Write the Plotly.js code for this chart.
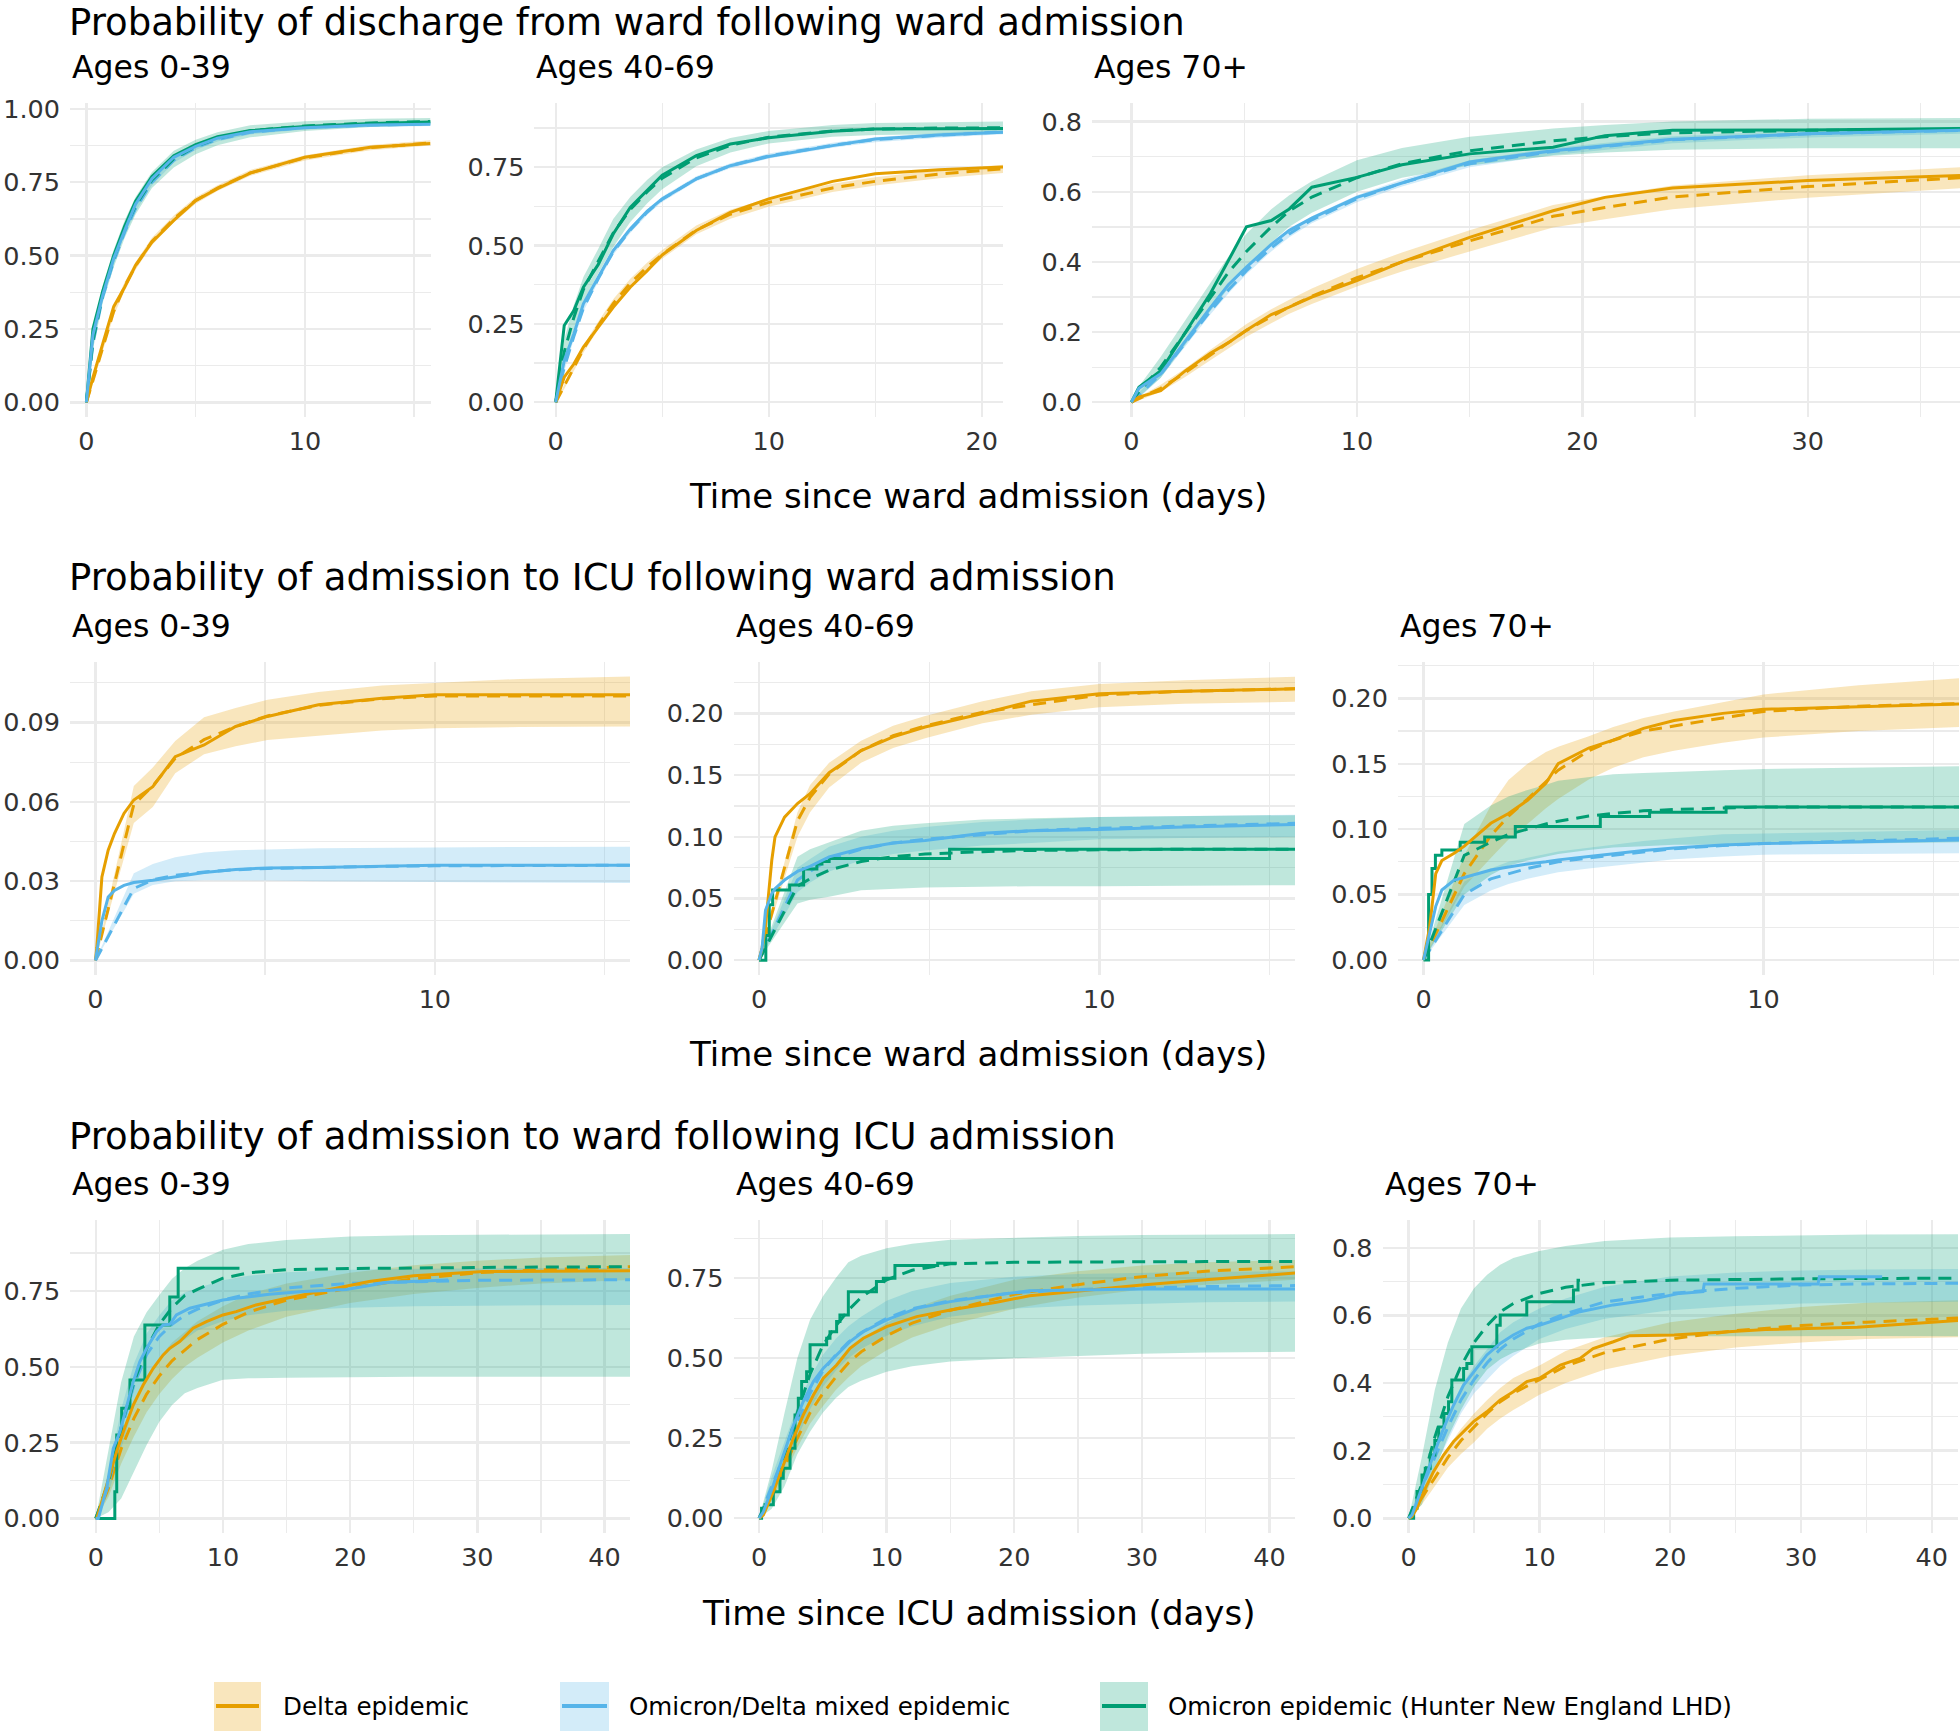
<!DOCTYPE html>
<html><head><meta charset="utf-8">
<script src="https://cdn.plot.ly/plotly-3.0.1.min.js"></script>
<style>html,body{margin:0;padding:0;background:#fff}</style>
</head><body><div id="chart" style="width:1960px;height:1733px"></div>
<script>
// ---------- Row 1: discharge from ward following ward admission ----------
const p1_t = [0, 0.3, 0.75, 1.25, 1.75, 2.25, 3, 4, 5, 6, 7.5, 10, 13, 15.75];
const p1_delta_obs = [0, 0.085, 0.2, 0.326, 0.392, 0.467, 0.546, 0.62, 0.6875, 0.728, 0.781, 0.835, 0.869, 0.882];
const p1_delta_fit = [0, 0.075, 0.19, 0.31, 0.395, 0.465, 0.548, 0.625, 0.688, 0.73, 0.782, 0.833, 0.868, 0.884];
const p1_delta_lo  = [0, 0.065, 0.175, 0.295, 0.38, 0.452, 0.535, 0.613, 0.677, 0.72, 0.772, 0.824, 0.859, 0.875];
const p1_delta_hi  = [0, 0.085, 0.205, 0.325, 0.41, 0.478, 0.561, 0.637, 0.699, 0.74, 0.792, 0.842, 0.877, 0.893];
const p1_mixed_obs = [0, 0.23, 0.365, 0.49, 0.585, 0.675, 0.762, 0.835, 0.872, 0.9, 0.922, 0.936, 0.945, 0.948];
const p1_mixed_fit = [0, 0.2, 0.36, 0.48, 0.58, 0.66, 0.75, 0.825, 0.868, 0.896, 0.92, 0.937, 0.945, 0.949];
const p1_mixed_lo  = [0, 0.19, 0.35, 0.47, 0.57, 0.65, 0.74, 0.816, 0.86, 0.889, 0.913, 0.93, 0.938, 0.942];
const p1_mixed_hi  = [0, 0.21, 0.37, 0.49, 0.59, 0.67, 0.76, 0.834, 0.876, 0.903, 0.927, 0.944, 0.952, 0.956];
const p1_omi_obs   = [0, 0.25, 0.38, 0.5, 0.6, 0.685, 0.77, 0.84, 0.878, 0.905, 0.926, 0.94, 0.95, 0.955];
const p1_omi_fit   = [0, 0.21, 0.37, 0.49, 0.59, 0.67, 0.758, 0.83, 0.872, 0.9, 0.925, 0.942, 0.952, 0.957];
const p1_omi_lo    = [0, 0.18, 0.34, 0.46, 0.56, 0.64, 0.73, 0.8, 0.845, 0.876, 0.903, 0.925, 0.938, 0.944];
const p1_omi_hi    = [0, 0.24, 0.4, 0.52, 0.62, 0.7, 0.785, 0.857, 0.895, 0.92, 0.944, 0.958, 0.966, 0.969];

const p2_t = [0, 0.4, 0.85, 1.3, 2, 2.7, 3.5, 4.3, 5, 6.6, 8.2, 10, 13, 15, 18, 21];
const p2_delta_obs = [0, 0.08, 0.122, 0.176, 0.24, 0.303, 0.367, 0.42, 0.47, 0.548, 0.606, 0.649, 0.705, 0.729, 0.742, 0.751];
const p2_delta_fit = [0, 0.05, 0.11, 0.17, 0.245, 0.315, 0.38, 0.432, 0.472, 0.55, 0.6, 0.638, 0.684, 0.705, 0.728, 0.745];
const p2_delta_lo  = [0, 0.042, 0.1, 0.158, 0.232, 0.301, 0.366, 0.418, 0.458, 0.536, 0.586, 0.624, 0.671, 0.692, 0.715, 0.732];
const p2_delta_hi  = [0, 0.058, 0.12, 0.182, 0.258, 0.329, 0.394, 0.446, 0.486, 0.564, 0.614, 0.652, 0.697, 0.718, 0.741, 0.758];
const p2_mixed_obs = [0, 0.133, 0.218, 0.314, 0.399, 0.484, 0.553, 0.61, 0.649, 0.713, 0.755, 0.784, 0.819, 0.84, 0.853, 0.862];
const p2_mixed_fit = [0, 0.11, 0.21, 0.3, 0.395, 0.48, 0.55, 0.607, 0.648, 0.713, 0.755, 0.786, 0.82, 0.838, 0.852, 0.863];
const p2_mixed_lo  = [0, 0.1, 0.2, 0.29, 0.385, 0.47, 0.54, 0.598, 0.639, 0.705, 0.747, 0.778, 0.812, 0.83, 0.844, 0.855];
const p2_mixed_hi  = [0, 0.12, 0.22, 0.31, 0.405, 0.49, 0.56, 0.616, 0.657, 0.721, 0.763, 0.794, 0.828, 0.846, 0.86, 0.871];
const p2_omi_obs   = [0, 0.245, 0.293, 0.367, 0.44, 0.537, 0.622, 0.676, 0.725, 0.787, 0.824, 0.844, 0.865, 0.872, 0.874, 0.874];
const p2_omi_fit   = [0, 0.16, 0.27, 0.36, 0.45, 0.54, 0.615, 0.672, 0.715, 0.78, 0.82, 0.846, 0.866, 0.872, 0.875, 0.876];
const p2_omi_lo    = [0, 0.12, 0.23, 0.32, 0.41, 0.495, 0.575, 0.635, 0.68, 0.753, 0.797, 0.826, 0.847, 0.853, 0.855, 0.856];
const p2_omi_hi    = [0, 0.2, 0.31, 0.4, 0.49, 0.585, 0.655, 0.71, 0.75, 0.807, 0.843, 0.866, 0.885, 0.891, 0.894, 0.896];

const p3_t = [0, 0.33, 1.3, 2.4, 3.5, 4.3, 5.1, 6.2, 7, 8, 10, 12, 15, 18.7, 21, 24, 30, 36.75];
const p3_delta_obs = [0, 0.015, 0.033, 0.09, 0.14, 0.17, 0.205, 0.25, 0.271, 0.3, 0.347, 0.4, 0.47, 0.546, 0.584, 0.611, 0.632, 0.646];
const p3_delta_fit = [0, 0.01, 0.04, 0.085, 0.135, 0.17, 0.205, 0.245, 0.272, 0.302, 0.355, 0.4, 0.46, 0.53, 0.555, 0.585, 0.615, 0.64];
const p3_delta_lo  = [0, 0.005, 0.03, 0.073, 0.12, 0.153, 0.187, 0.225, 0.252, 0.28, 0.33, 0.373, 0.43, 0.498, 0.522, 0.55, 0.583, 0.61];
const p3_delta_hi  = [0, 0.015, 0.05, 0.097, 0.15, 0.187, 0.223, 0.265, 0.292, 0.324, 0.38, 0.427, 0.49, 0.562, 0.588, 0.618, 0.647, 0.67];
const p3_mixed_obs = [0, 0.04, 0.081, 0.176, 0.27, 0.335, 0.385, 0.45, 0.49, 0.525, 0.584, 0.625, 0.685, 0.717, 0.732, 0.75, 0.765, 0.775];
const p3_mixed_fit = [0, 0.02, 0.08, 0.17, 0.26, 0.32, 0.375, 0.44, 0.48, 0.52, 0.58, 0.625, 0.68, 0.715, 0.73, 0.748, 0.765, 0.775];
const p3_mixed_lo  = [0, 0.012, 0.07, 0.16, 0.25, 0.31, 0.365, 0.43, 0.47, 0.51, 0.57, 0.615, 0.67, 0.705, 0.72, 0.738, 0.755, 0.765];
const p3_mixed_hi  = [0, 0.028, 0.09, 0.18, 0.27, 0.33, 0.385, 0.45, 0.49, 0.53, 0.59, 0.635, 0.69, 0.725, 0.74, 0.758, 0.775, 0.785];
const p3_omi_obs   = [0, 0.043, 0.09, 0.2, 0.31, 0.404, 0.5, 0.518, 0.551, 0.613, 0.641, 0.677, 0.708, 0.727, 0.76, 0.775, 0.776, 0.78];
const p3_omi_fit   = [0, 0.03, 0.1, 0.2, 0.3, 0.37, 0.43, 0.5, 0.545, 0.585, 0.64, 0.68, 0.717, 0.745, 0.757, 0.768, 0.775, 0.778];
const p3_omi_lo    = [0, 0.015, 0.07, 0.165, 0.26, 0.325, 0.385, 0.455, 0.5, 0.54, 0.6, 0.64, 0.675, 0.703, 0.712, 0.72, 0.724, 0.724];
const p3_omi_hi    = [0, 0.045, 0.13, 0.235, 0.34, 0.415, 0.48, 0.55, 0.59, 0.63, 0.69, 0.725, 0.757, 0.78, 0.79, 0.8, 0.808, 0.81];

// ---------- Row 2: admission to ICU following ward admission ----------
const p4_t = [0, 0.04, 0.19, 0.375, 0.56, 0.84, 1.13, 1.69, 2.35, 3.2, 4.13, 5.07, 6.57, 8.44, 10, 12.5, 15.75];
const p4_delta_obs = [0, 0.005, 0.0316, 0.0417, 0.048, 0.0556, 0.0607, 0.0657, 0.0771, 0.0815, 0.0885, 0.0923, 0.0967, 0.0992, 0.1005, 0.1005, 0.1005];
const p4_delta_fit = [0, 0.002, 0.0099, 0.0196, 0.029, 0.044, 0.059, 0.066, 0.0765, 0.0835, 0.0885, 0.0925, 0.0965, 0.099, 0.1, 0.1, 0.1];
const p4_delta_lo  = [0, 0.0018, 0.0087, 0.0172, 0.0258, 0.0387, 0.052, 0.058, 0.0708, 0.078, 0.081, 0.0834, 0.085, 0.087, 0.0878, 0.0883, 0.0885];
const p4_delta_hi  = [0, 0.0023, 0.0111, 0.0219, 0.0327, 0.049, 0.066, 0.073, 0.083, 0.092, 0.0955, 0.0986, 0.1015, 0.104, 0.105, 0.1065, 0.1074];
const p4_mixed_obs = [0, 0.003, 0.015, 0.024, 0.0265, 0.0284, 0.0295, 0.0303, 0.0315, 0.0333, 0.0344, 0.035, 0.0352, 0.0356, 0.036, 0.036, 0.036];
const p4_mixed_fit = [0, 0.001, 0.0045, 0.009, 0.0135, 0.0203, 0.0272, 0.0305, 0.0322, 0.0335, 0.0343, 0.0348, 0.0352, 0.0356, 0.0358, 0.0359, 0.036];
const p4_mixed_lo  = [0, 0.0009, 0.0042, 0.0083, 0.0125, 0.0187, 0.0252, 0.0285, 0.03, 0.0303, 0.0303, 0.0302, 0.03, 0.0298, 0.0297, 0.0295, 0.0293];
const p4_mixed_hi  = [0, 0.0012, 0.0055, 0.011, 0.0163, 0.0245, 0.033, 0.0365, 0.039, 0.0408, 0.0417, 0.042, 0.0424, 0.0427, 0.0428, 0.0429, 0.043];

const p5_t = [0, 0.09, 0.19, 0.375, 0.47, 0.75, 1.13, 1.5, 2.06, 3, 3.94, 4.88, 6.57, 8, 10, 12.5, 15.75];
const p5_delta_obs = [0, 0.01, 0.027, 0.081, 0.1, 0.116, 0.127, 0.135, 0.152, 0.17, 0.181, 0.189, 0.2, 0.21, 0.216, 0.218, 0.22];
const p5_delta_fit = [0, 0.009, 0.019, 0.0375, 0.047, 0.075, 0.113, 0.132, 0.151, 0.17, 0.182, 0.19, 0.201, 0.207, 0.215, 0.218, 0.22];
const p5_delta_lo  = [0, 0.008, 0.0168, 0.0332, 0.0416, 0.0664, 0.1, 0.12, 0.14, 0.16, 0.172, 0.18, 0.192, 0.199, 0.205, 0.208, 0.2095];
const p5_delta_hi  = [0, 0.0096, 0.0202, 0.0398, 0.0499, 0.0796, 0.12, 0.142, 0.16, 0.178, 0.19, 0.198, 0.21, 0.218, 0.224, 0.227, 0.2297];
const p5_mixed_obs = [0, 0.01, 0.0405, 0.054, 0.058, 0.065, 0.072, 0.076, 0.0838, 0.0905, 0.095, 0.097, 0.103, 0.105, 0.106, 0.108, 0.11];
const p5_mixed_fit = [0, 0.0052, 0.0109, 0.0216, 0.027, 0.0431, 0.065, 0.072, 0.082, 0.09, 0.095, 0.098, 0.102, 0.105, 0.107, 0.109, 0.111];
const p5_mixed_lo  = [0, 0.0044, 0.0092, 0.0183, 0.0229, 0.0365, 0.055, 0.063, 0.072, 0.081, 0.086, 0.089, 0.093, 0.095, 0.098, 0.099, 0.1];
const p5_mixed_hi  = [0, 0.006, 0.0126, 0.0249, 0.0312, 0.0498, 0.075, 0.082, 0.092, 0.1, 0.105, 0.108, 0.112, 0.114, 0.116, 0.117, 0.118];
const p5_omi_fit   = [0, 0.0048, 0.0101, 0.0199, 0.025, 0.0398, 0.06, 0.066, 0.073, 0.08, 0.084, 0.086, 0.088, 0.089, 0.0895, 0.09, 0.09];
const p5_omi_lo    = [0, 0.0037, 0.0077, 0.0153, 0.0191, 0.0305, 0.046, 0.049, 0.0515, 0.0568, 0.058, 0.059, 0.0595, 0.06, 0.06, 0.0605, 0.0608];
const p5_omi_hi    = [0, 0.0067, 0.0141, 0.0278, 0.0349, 0.0556, 0.0838, 0.09, 0.096, 0.105, 0.109, 0.111, 0.114, 0.115, 0.116, 0.117, 0.1176];
const p5_omi_obs_t = [0, 0.2, 0.3, 0.4, 0.9, 1.31, 1.7, 1.85, 2.06, 5.6, 15.75];
const p5_omi_obs   = [0, 0.02, 0.045, 0.057, 0.061, 0.074, 0.078, 0.08, 0.0825, 0.09, 0.09];

const p6_t = [0, 0.18, 0.36, 0.54, 0.9, 1.2, 1.98, 2.5, 3.06, 3.6, 3.96, 4.86, 5.58, 6.47, 7.37, 8.8, 10, 12.8, 15.75];
const p6_delta_obs = [0, 0.025, 0.066, 0.076, 0.0815, 0.087, 0.1045, 0.112, 0.122, 0.135, 0.15, 0.162, 0.168, 0.177, 0.183, 0.1885, 0.1916, 0.1936, 0.1957];
const p6_delta_fit = [0, 0.01, 0.02, 0.03, 0.05, 0.066, 0.095, 0.11, 0.123, 0.136, 0.145, 0.16, 0.168, 0.175, 0.179, 0.185, 0.19, 0.194, 0.196];
const p6_delta_lo  = [0, 0.008, 0.017, 0.025, 0.042, 0.056, 0.078, 0.092, 0.104, 0.116, 0.123, 0.138, 0.147, 0.155, 0.16, 0.166, 0.17, 0.175, 0.178];
const p6_delta_hi  = [0, 0.012, 0.024, 0.036, 0.06, 0.08, 0.118, 0.1376, 0.15, 0.159, 0.163, 0.171, 0.178, 0.185, 0.19, 0.197, 0.203, 0.21, 0.2153];
const p6_mixed_obs = [0, 0.02, 0.041, 0.0535, 0.061, 0.063, 0.0688, 0.071, 0.0734, 0.075, 0.0765, 0.079, 0.081, 0.0837, 0.0855, 0.0879, 0.089, 0.0905, 0.0917];
const p6_mixed_fit = [0, 0.0075, 0.015, 0.0225, 0.0375, 0.05, 0.062, 0.066, 0.07, 0.073, 0.075, 0.078, 0.08, 0.083, 0.085, 0.0875, 0.089, 0.091, 0.093];
const p6_mixed_lo  = [0, 0.0063, 0.0126, 0.0189, 0.0315, 0.042, 0.053, 0.058, 0.062, 0.065, 0.067, 0.07, 0.072, 0.075, 0.077, 0.079, 0.0805, 0.081, 0.0815];
const p6_mixed_hi  = [0, 0.009, 0.018, 0.027, 0.045, 0.06, 0.07, 0.075, 0.078, 0.081, 0.083, 0.086, 0.088, 0.091, 0.093, 0.096, 0.097, 0.098, 0.0994];
const p6_omi_fit   = [0, 0.012, 0.024, 0.036, 0.06, 0.08, 0.09, 0.096, 0.1, 0.104, 0.106, 0.11, 0.112, 0.114, 0.115, 0.116, 0.117, 0.117, 0.117];
const p6_omi_lo    = [0, 0.0075, 0.015, 0.0225, 0.0375, 0.05, 0.065, 0.072, 0.076, 0.079, 0.081, 0.084, 0.086, 0.087, 0.088, 0.088, 0.089, 0.089, 0.09];
const p6_omi_hi    = [0, 0.0156, 0.0312, 0.0468, 0.078, 0.104, 0.118, 0.125, 0.13, 0.134, 0.137, 0.14, 0.142, 0.143, 0.144, 0.145, 0.146, 0.147, 0.148];
const p6_omi_obs_t = [0, 0.15, 0.25, 0.35, 0.54, 1.08, 1.8, 2.7, 5.2, 6.65, 8.9, 15.75];
const p6_omi_obs   = [0, 0.05, 0.07, 0.08, 0.084, 0.09, 0.094, 0.102, 0.1096, 0.113, 0.117, 0.117];

// ---------- Row 3: admission to ward following ICU admission ----------
const p7_t = [0, 1, 2, 3, 4, 5, 6, 7, 8, 10, 12, 15, 20, 25, 30, 35, 42];
const p7_delta_fit = [0, 0.1, 0.23, 0.33, 0.41, 0.47, 0.52, 0.555, 0.59, 0.64, 0.68, 0.72, 0.76, 0.79, 0.81, 0.82, 0.83];
const p7_delta_lo  = [0, 0.07, 0.18, 0.27, 0.35, 0.41, 0.46, 0.5, 0.53, 0.58, 0.62, 0.665, 0.71, 0.74, 0.76, 0.775, 0.786];
const p7_delta_hi  = [0, 0.13, 0.28, 0.39, 0.47, 0.53, 0.58, 0.615, 0.65, 0.7, 0.74, 0.775, 0.81, 0.835, 0.85, 0.86, 0.869];
const p7_delta_obs_t = [0, 0.08, 0.86, 1.64, 2.17, 2.95, 3.73, 4.52, 5.3, 5.82, 6.6, 7.65, 8.7, 10, 11.04, 12.6, 15, 17.6, 21.5, 25, 30.5, 42];
const p7_delta_obs   = [0, 0, 0.11, 0.22, 0.286, 0.374, 0.44, 0.495, 0.539, 0.561, 0.583, 0.627, 0.649, 0.671, 0.682, 0.704, 0.726, 0.748, 0.781, 0.8, 0.814, 0.817];
const p7_mixed_fit = [0, 0.11, 0.29, 0.44, 0.54, 0.6, 0.64, 0.67, 0.69, 0.72, 0.74, 0.76, 0.775, 0.781, 0.785, 0.786, 0.787];
const p7_mixed_lo  = [0, 0.08, 0.23, 0.37, 0.46, 0.52, 0.56, 0.59, 0.62, 0.65, 0.67, 0.685, 0.695, 0.7, 0.702, 0.703, 0.704];
const p7_mixed_hi  = [0, 0.15, 0.36, 0.51, 0.61, 0.67, 0.72, 0.745, 0.76, 0.785, 0.8, 0.812, 0.82, 0.823, 0.825, 0.826, 0.826];
const p7_mixed_obs_t = [0, 0.2, 0.86, 1.38, 1.9, 2.43, 2.95, 3.47, 4, 4.78, 5.3, 5.82, 6.34, 7.39, 8.43, 10, 11.04, 13.65, 16.3, 19.7, 22.9, 27.7];
const p7_mixed_obs   = [0, 0, 0.1, 0.231, 0.286, 0.374, 0.451, 0.517, 0.561, 0.616, 0.638, 0.64, 0.671, 0.693, 0.704, 0.72, 0.726, 0.739, 0.748, 0.755, 0.778, 0.786];
const p7_omi_fit   = [0, 0.12, 0.3, 0.45, 0.56, 0.64, 0.695, 0.735, 0.755, 0.792, 0.81, 0.82, 0.824, 0.826, 0.828, 0.829, 0.83];
const p7_omi_lo    = [0, 0.02, 0.066, 0.154, 0.242, 0.319, 0.374, 0.4125, 0.43, 0.457, 0.462, 0.464, 0.466, 0.467, 0.467, 0.467, 0.467];
const p7_omi_hi    = [0, 0.23, 0.45, 0.6, 0.68, 0.737, 0.79, 0.825, 0.85, 0.886, 0.905, 0.918, 0.93, 0.934, 0.936, 0.937, 0.938];
const p7_omi_obs_t = [0, 1.5, 1.65, 2.04, 2.69, 3.86, 5.82, 6.48, 11.3];
const p7_omi_obs   = [0, 0.088, 0.275, 0.363, 0.4565, 0.638, 0.73, 0.825, 0.825];

const p8_t = [0, 1, 2, 3, 4, 5, 6, 7, 8, 10, 12, 15, 20, 25, 30, 35, 42];
const p8_delta_fit = [0, 0.07, 0.16, 0.25, 0.33, 0.39, 0.44, 0.485, 0.52, 0.57, 0.61, 0.65, 0.7, 0.73, 0.755, 0.772, 0.786];
const p8_delta_lo  = [0, 0.055, 0.135, 0.22, 0.295, 0.35, 0.4, 0.44, 0.475, 0.525, 0.565, 0.605, 0.655, 0.69, 0.715, 0.73, 0.745];
const p8_delta_hi  = [0, 0.085, 0.185, 0.28, 0.365, 0.43, 0.48, 0.525, 0.56, 0.61, 0.655, 0.695, 0.745, 0.772, 0.79, 0.8, 0.807];
const p8_delta_obs_t = [0, 0.34, 1.12, 1.9, 2.69, 3.47, 4.26, 5.04, 6.08, 7.13, 8.17, 10, 12.35, 15, 18.6, 21.2, 25, 30, 35, 42];
const p8_delta_obs   = [0, 0.01, 0.083, 0.167, 0.25, 0.323, 0.385, 0.4375, 0.479, 0.531, 0.5625, 0.599, 0.63, 0.651, 0.675, 0.695, 0.71, 0.729, 0.745, 0.766];
const p8_mixed_fit = [0, 0.1, 0.2, 0.3, 0.39, 0.46, 0.51, 0.55, 0.58, 0.625, 0.655, 0.68, 0.705, 0.715, 0.72, 0.724, 0.727];
const p8_mixed_lo  = [0, 0.07, 0.16, 0.25, 0.34, 0.41, 0.46, 0.5, 0.53, 0.57, 0.6, 0.63, 0.655, 0.665, 0.671, 0.675, 0.677];
const p8_mixed_hi  = [0, 0.13, 0.24, 0.35, 0.44, 0.51, 0.56, 0.6, 0.63, 0.68, 0.71, 0.735, 0.755, 0.763, 0.767, 0.77, 0.771];
const p8_mixed_obs_t = [0, 0.34, 1.12, 1.9, 2.69, 3.47, 4.26, 5.04, 6.08, 7.13, 8.17, 10, 12.35, 15, 18.6, 21.2, 30, 42];
const p8_mixed_obs   = [0, 0.02, 0.104, 0.198, 0.29, 0.365, 0.427, 0.469, 0.51, 0.552, 0.583, 0.62, 0.656, 0.677, 0.698, 0.711, 0.716, 0.716];
const p8_omi_fit   = [0, 0.08, 0.2, 0.33, 0.45, 0.54, 0.6, 0.65, 0.69, 0.745, 0.775, 0.795, 0.8, 0.801, 0.802, 0.802, 0.802];
const p8_omi_lo    = [0, 0.03, 0.1, 0.2, 0.27, 0.33, 0.375, 0.41, 0.43, 0.458, 0.475, 0.49, 0.5, 0.508, 0.514, 0.518, 0.52];
const p8_omi_hi    = [0, 0.15, 0.33, 0.5, 0.62, 0.693, 0.75, 0.8, 0.82, 0.844, 0.858, 0.87, 0.877, 0.882, 0.885, 0.887, 0.888];
const p8_omi_obs_t = [0, 0.2, 0.47, 1.12, 1.64, 1.9, 2.43, 2.82, 3.08, 3.34, 3.73, 4.0, 5.3, 5.56, 6.08, 6.34, 7.0, 9.2, 9.74, 10.65, 14, 15.5];
const p8_omi_obs   = [0, 0.031, 0.042, 0.083, 0.125, 0.156, 0.219, 0.323, 0.375, 0.427, 0.458, 0.542, 0.5625, 0.583, 0.615, 0.635, 0.708, 0.74, 0.75, 0.79, 0.797, 0.797];

const p9_t = [0, 1, 2, 3, 4, 5, 6, 7, 8, 10, 12, 15, 20, 25, 30, 35, 42];
const p9_delta_fit = [0, 0.06, 0.12, 0.18, 0.23, 0.27, 0.31, 0.345, 0.37, 0.41, 0.45, 0.49, 0.53, 0.555, 0.57, 0.58, 0.592];
const p9_delta_lo  = [0, 0.04, 0.095, 0.15, 0.19, 0.225, 0.265, 0.295, 0.32, 0.365, 0.4, 0.44, 0.48, 0.505, 0.52, 0.53, 0.535];
const p9_delta_hi  = [0, 0.08, 0.145, 0.21, 0.265, 0.31, 0.35, 0.385, 0.415, 0.452, 0.495, 0.535, 0.58, 0.605, 0.625, 0.637, 0.645];
const p9_delta_obs_t = [0, 0.25, 0.64, 1.15, 1.9, 2.67, 3.44, 4.2, 4.96, 5.98, 7.0, 8.0, 9.03, 10, 11.6, 13.1, 14.1, 15.65, 16.9, 20.3, 22.6, 27.3, 34.3, 42];
const p9_delta_obs   = [0, 0.005, 0.03, 0.079, 0.138, 0.187, 0.227, 0.256, 0.286, 0.315, 0.35, 0.374, 0.404, 0.414, 0.453, 0.473, 0.502, 0.522, 0.54, 0.542, 0.547, 0.558, 0.565, 0.585];
const p9_mixed_fit = [0, 0.09, 0.18, 0.27, 0.35, 0.41, 0.46, 0.5, 0.53, 0.575, 0.605, 0.64, 0.665, 0.68, 0.69, 0.693, 0.695];
const p9_mixed_lo  = [0, 0.07, 0.15, 0.23, 0.31, 0.37, 0.41, 0.45, 0.48, 0.53, 0.56, 0.59, 0.615, 0.628, 0.635, 0.638, 0.64];
const p9_mixed_hi  = [0, 0.11, 0.21, 0.31, 0.39, 0.45, 0.5, 0.55, 0.58, 0.62, 0.65, 0.685, 0.715, 0.727, 0.733, 0.736, 0.737];
const p9_mixed_obs_t = [0, 0.25, 0.64, 1.15, 1.9, 2.67, 3.44, 4.2, 4.96, 5.98, 7.0, 8.0, 9.03, 10, 11.6, 13.1, 15.65, 18.2, 20.7, 22.5, 22.6, 31.3, 31.4, 36.2];
const p9_mixed_obs   = [0, 0.01, 0.05, 0.108, 0.187, 0.266, 0.335, 0.394, 0.433, 0.483, 0.517, 0.542, 0.562, 0.571, 0.591, 0.611, 0.631, 0.645, 0.665, 0.67, 0.693, 0.693, 0.714, 0.714];
const p9_omi_fit   = [0, 0.1, 0.24, 0.36, 0.45, 0.52, 0.57, 0.61, 0.635, 0.665, 0.683, 0.697, 0.704, 0.707, 0.708, 0.709, 0.71];
const p9_omi_lo    = [0, 0.04, 0.14, 0.24, 0.32, 0.39, 0.44, 0.47, 0.49, 0.517, 0.528, 0.535, 0.538, 0.539, 0.539, 0.539, 0.538];
const p9_omi_hi    = [0, 0.18, 0.38, 0.52, 0.62, 0.68, 0.72, 0.75, 0.77, 0.79, 0.805, 0.82, 0.83, 0.834, 0.837, 0.839, 0.84];
const p9_omi_obs_t = [0, 0.38, 0.64, 1.02, 1.27, 1.65, 2.0, 2.3, 2.7, 3.05, 3.3, 4.2, 4.45, 4.83, 6.74, 7.0, 9.03, 12.6, 12.95, 13.1];
const p9_omi_obs   = [0, 0.03, 0.079, 0.128, 0.148, 0.187, 0.23, 0.27, 0.31, 0.345, 0.409, 0.443, 0.458, 0.507, 0.571, 0.601, 0.64, 0.675, 0.704, 0.704];

// ---------- Labels ----------
const sectionTitles = ["Probability of discharge from ward following ward admission",
                       "Probability of admission to ICU following ward admission",
                       "Probability of admission to ward following ICU admission"];
const axisTitles = ["Time since ward admission (days)", "Time since ward admission (days)", "Time since ICU admission (days)"];
const ageLabels = ["Ages 0-39", "Ages 40-69", "Ages 70+"];
const groupNames = ["Delta epidemic", "Omicron/Delta mixed epidemic", "Omicron epidemic (Hunter New England LHD)"];

// ---------- Styling / layout ----------
const W = 1960, H = 1733;
const FONT = "DejaVu Sans";
const COL = {delta:'#E69F00', mixed:'#56B4E9', omi:'#009E73'};
const FILL = {delta:'rgba(230,159,0,0.26)', mixed:'rgba(86,180,233,0.26)', omi:'rgba(0,158,115,0.25)'};
const LW = 3, DASH = '13px,8px';

// panel boxes in pixels: [left, top, right, bottom]
const panels = [
 {box:[70,103,430.5,417],  xr:[-0.75,15.75], yr:[-0.05,1.02],  xd:10, yd:0.25, yf:'.2f',
  t:p1_t, series:{delta:[p1_delta_fit,p1_delta_lo,p1_delta_hi,p1_t,p1_delta_obs,'linear'], mixed:[p1_mixed_fit,p1_mixed_lo,p1_mixed_hi,p1_t,p1_mixed_obs,'linear'], omi:[p1_omi_fit,p1_omi_lo,p1_omi_hi,p1_t,p1_omi_obs,'linear']}},
 {box:[534.4,103,1003,417], xr:[-1,21], yr:[-0.047,0.955], xd:10, yd:0.25, yf:'.2f',
  t:p2_t, series:{delta:[p2_delta_fit,p2_delta_lo,p2_delta_hi,p2_t,p2_delta_obs,'linear'], mixed:[p2_mixed_fit,p2_mixed_lo,p2_mixed_hi,p2_t,p2_mixed_obs,'linear'], omi:[p2_omi_fit,p2_omi_lo,p2_omi_hi,p2_t,p2_omi_obs,'linear']}},
 {box:[1092,103,1960,417], xr:[-1.75,36.75], yr:[-0.042,0.853], xd:10, yd:0.2, yf:'.1f',
  t:p3_t, series:{delta:[p3_delta_fit,p3_delta_lo,p3_delta_hi,p3_t,p3_delta_obs,'linear'], mixed:[p3_mixed_fit,p3_mixed_lo,p3_mixed_hi,p3_t,p3_mixed_obs,'linear'], omi:[p3_omi_fit,p3_omi_lo,p3_omi_hi,p3_t,p3_omi_obs,'linear']}},
 {box:[70,661.7,630,975], xr:[-0.75,15.75], yr:[-0.0055,0.113], xd:10, yd:0.03, yf:'.2f',
  t:p4_t, series:{delta:[p4_delta_fit,p4_delta_lo,p4_delta_hi,p4_t,p4_delta_obs,'linear'], mixed:[p4_mixed_fit,p4_mixed_lo,p4_mixed_hi,p4_t,p4_mixed_obs,'linear']}},
 {box:[733.5,661.7,1295,975], xr:[-0.75,15.75], yr:[-0.012,0.242], xd:10, yd:0.05, yf:'.2f',
  t:p5_t, series:{delta:[p5_delta_fit,p5_delta_lo,p5_delta_hi,p5_t,p5_delta_obs,'linear'], mixed:[p5_mixed_fit,p5_mixed_lo,p5_mixed_hi,p5_t,p5_mixed_obs,'linear'], omi:[p5_omi_fit,p5_omi_lo,p5_omi_hi,p5_omi_obs_t,p5_omi_obs,'hv']}},
 {box:[1398,661.7,1959,975], xr:[-0.75,15.75], yr:[-0.0115,0.228], xd:10, yd:0.05, yf:'.2f',
  t:p6_t, series:{delta:[p6_delta_fit,p6_delta_lo,p6_delta_hi,p6_t,p6_delta_obs,'linear'], mixed:[p6_mixed_fit,p6_mixed_lo,p6_mixed_hi,p6_t,p6_mixed_obs,'linear'], omi:[p6_omi_fit,p6_omi_lo,p6_omi_hi,p6_omi_obs_t,p6_omi_obs,'hv']}},
 {box:[70.3,1220,630,1533.3], xr:[-2,42], yr:[-0.049,0.984], xd:10, yd:0.25, yf:'.2f',
  t:p7_t, series:{delta:[p7_delta_fit,p7_delta_lo,p7_delta_hi,p7_delta_obs_t,p7_delta_obs,'linear'], mixed:[p7_mixed_fit,p7_mixed_lo,p7_mixed_hi,p7_mixed_obs_t,p7_mixed_obs,'linear'], omi:[p7_omi_fit,p7_omi_lo,p7_omi_hi,p7_omi_obs_t,p7_omi_obs,'hv']}},
 {box:[733.5,1220,1295,1533.3], xr:[-2,42], yr:[-0.047,0.932], xd:10, yd:0.25, yf:'.2f',
  t:p8_t, series:{delta:[p8_delta_fit,p8_delta_lo,p8_delta_hi,p8_delta_obs_t,p8_delta_obs,'linear'], mixed:[p8_mixed_fit,p8_mixed_lo,p8_mixed_hi,p8_mixed_obs_t,p8_mixed_obs,'linear'], omi:[p8_omi_fit,p8_omi_lo,p8_omi_hi,p8_omi_obs_t,p8_omi_obs,'hv']}},
 {box:[1382.5,1220,1958,1533.3], xr:[-2,42], yr:[-0.0443,0.882], xd:10, yd:0.2, yf:'.1f',
  t:p9_t, series:{delta:[p9_delta_fit,p9_delta_lo,p9_delta_hi,p9_delta_obs_t,p9_delta_obs,'linear'], mixed:[p9_mixed_fit,p9_mixed_lo,p9_mixed_hi,p9_mixed_obs_t,p9_mixed_obs,'linear'], omi:[p9_omi_fit,p9_omi_lo,p9_omi_hi,p9_omi_obs_t,p9_omi_obs,'hv']}}
];

const traces = [];
const layout = {
  width:W, height:H, margin:{l:0,r:0,t:0,b:0}, paper_bgcolor:'#ffffff', plot_bgcolor:'#ffffff',
  showlegend:false, font:{family:FONT, color:'#000'}, annotations:[], shapes:[]
};
const GRID = '#EBEBEB';
const tickFont = {family:FONT, size:25.5, color:'#333333'};

panels.forEach((p, i) => {
  const n = i + 1;
  const xa = n === 1 ? 'x' : 'x' + n, ya = n === 1 ? 'y' : 'y' + n;
  const xk = n === 1 ? 'xaxis' : 'xaxis' + n, yk = n === 1 ? 'yaxis' : 'yaxis' + n;
  const [l, t, r, b] = p.box;
  layout[xk] = {domain:[l/W, r/W], range:p.xr, anchor:ya, tickmode:'linear', tick0:0, dtick:p.xd,
    showgrid:true, gridcolor:GRID, gridwidth:2.4, zeroline:false, showline:false, ticks:'',
    minor:{tickmode:'linear', tick0:0, dtick:p.xd/2, showgrid:true, gridcolor:GRID, gridwidth:1.3},
    tickfont:tickFont, ticklabelstandoff:6, fixedrange:true};
  layout[yk] = {domain:[1 - b/H, 1 - t/H], range:p.yr, anchor:xa, tickmode:'linear', tick0:0, dtick:p.yd,
    tickformat:p.yf, showgrid:true, gridcolor:GRID, gridwidth:2.4, zeroline:false, showline:false, ticks:'',
    minor:{tickmode:'linear', tick0:0, dtick:p.yd/2, showgrid:true, gridcolor:GRID, gridwidth:1.3},
    tickfont:tickFont, ticklabelstandoff:9, fixedrange:true};
  const keys = ['delta','mixed','omi'].filter(k => p.series[k]);
  // ribbons
  keys.forEach(k => {
    const [fit, lo, hi] = p.series[k];
    traces.push({type:'scatter', mode:'lines', xaxis:xa, yaxis:ya,
      x:p.t.concat(p.t.slice().reverse()), y:lo.concat(hi.slice().reverse()),
      fill:'toself', fillcolor:FILL[k], line:{width:0, color:'rgba(0,0,0,0)'}, hoverinfo:'skip'});
  });
  // model (dashed)
  keys.forEach(k => {
    const [fit] = p.series[k];
    traces.push({type:'scatter', mode:'lines', xaxis:xa, yaxis:ya, x:p.t, y:fit,
      line:{color:COL[k], width:LW, dash:DASH}, hoverinfo:'skip'});
  });
  // observed (solid)
  ['omi','delta','mixed'].filter(k => p.series[k]).forEach(k => {
    const s = p.series[k];
    traces.push({type:'scatter', mode:'lines', xaxis:xa, yaxis:ya, x:s[3], y:s[4],
      line:{color:COL[k], width:LW, shape:s[5]}, hoverinfo:'skip'});
  });
  // subplot label
  layout.annotations.push({xref:'paper', yref:'paper', x:l/W, y:1 - [67,626,1184][Math.floor(i/3)]/H,
    xanchor:'left', yanchor:'middle', showarrow:false, text:ageLabels[i % 3],
    font:{family:FONT, size:31.5, color:'#000'}});
});

// section titles and axis titles
[null, 577, 1136.5].forEach((y, r) => {
  const a = {xref:'paper', yref:'paper', x:68/W, xanchor:'left', showarrow:false, borderpad:0,
    text:sectionTitles[r], font:{family:FONT, size:37, color:'#000'}};
  if (y === null) { a.y = 1; a.yanchor = 'top'; } else { a.y = 1 - y/H; a.yanchor = 'middle'; }
  layout.annotations.push(a);
});
[495.7, 1054, 1613.3].forEach((y, r) => {
  layout.annotations.push({xref:'paper', yref:'paper', x:978/W, y:1 - y/H, xanchor:'center', yanchor:'middle',
    showarrow:false, text:axisTitles[r], font:{family:FONT, size:34, color:'#000'}});
});

// legend (drawn manually)
const legendKeys = [[214,261,281,'delta'],[560,609,627,'mixed'],[1100,1148,1166,'omi']];
legendKeys.forEach(([x0, x1, tx, k], j) => {
  layout.shapes.push({type:'rect', xref:'paper', yref:'paper', x0:x0/W, x1:x1/W, y0:1-1731/H, y1:1-1682/H,
    fillcolor:FILL[k], line:{width:0}});
  layout.shapes.push({type:'line', xref:'paper', yref:'paper', x0:(x0+2)/W, x1:(x1-2)/W, y0:1-1706/H, y1:1-1706/H,
    line:{color:COL[k], width:4}});
  layout.annotations.push({xref:'paper', yref:'paper', x:tx/W, y:1-1706/H, xanchor:'left', yanchor:'middle',
    showarrow:false, text:groupNames[j], font:{family:FONT, size:24.6, color:'#000'}});
});

Plotly.newPlot('chart', traces, layout, {staticPlot:true, displayModeBar:false});
</script>
</body></html>
